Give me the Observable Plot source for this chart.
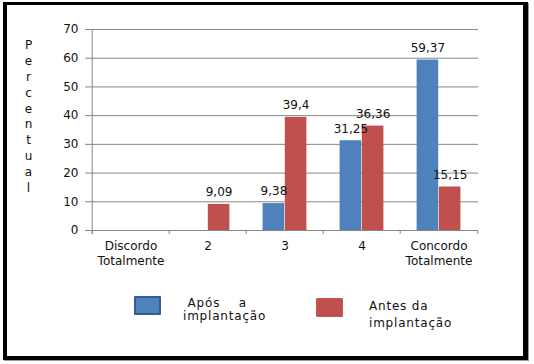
<!DOCTYPE html>
<html>
<head>
<meta charset="utf-8">
<script src="https://cdn.jsdelivr.net/npm/d3@7"></script>
<script src="https://cdn.jsdelivr.net/npm/@observablehq/plot@0.6"></script>
<style>
  html, body { margin: 0; padding: 0; background: #fff; }
  body { width: 534px; height: 364px; position: relative; overflow: hidden; font-family: "DejaVu Sans", sans-serif; }
  #frame { position: absolute; left: 3px; top: 2px; width: 525px; height: 358px; box-sizing: border-box;
           border-style: solid; border-color: #000; border-width: 3px 5px 4px 4px; box-shadow: 1px 1px 0 #999; pointer-events: none; }
  #chart { position: absolute; left: 0; top: 0; }
  .sw { position: absolute; box-sizing: border-box; }
  .lt { position: absolute; font-size: 12px; letter-spacing: 0.8px; color: #111; white-space: pre; }
</style>
</head>
<body>
<div id="chart"></div>
<div id="frame"></div>
<div id="legend"></div>
<script>
const categories = ["Discordo\nTotalmente", "2", "3", "4", "Concordo\nTotalmente"];
const seriesNames = ["Após a implantação", "Antes da implantação"];
const legendLines = [[" Após    a", "implantação"], ["Antes da", "implantação"]];
const apos = [0, 0, 9.38, 31.25, 59.37];
const antes = [0, 9.09, 39.4, 36.36, 15.15];
const yTicks = [0, 10, 20, 30, 40, 50, 60, 70];
const yTitle = "Percentual";

const colors = ["#4F81BD", "#C0504D"];
const W = 534, H = 270, mL = 90, mR = 56, mT = 29, mB = 40;
const bw = (W - mL - mR) / categories.length;
const barW = bw * 0.286;
const pad = (bw - 2 * barW) / 2;
const grid = "#868686";

const rowsA = categories.map((c, i) => ({cat: c, value: apos[i]}));
const rowsB = categories.map((c, i) => ({cat: c, value: antes[i]}));
const fmt = v => String(v).replace(".", ",");

const plot = Plot.plot({
  width: W, height: H,
  marginLeft: mL, marginRight: mR, marginTop: mT, marginBottom: mB,
  style: {fontFamily: "DejaVu Sans, sans-serif", fontSize: "12px", background: "transparent"},
  x: {type: "band", domain: categories, padding: 0, label: null},
  y: {domain: [0, 70], label: null},
  marks: [
    Plot.gridY(yTicks, {stroke: grid, strokeOpacity: 1}),
    Plot.axisY(yTicks, {tickSize: 5, tickPadding: 7, stroke: grid, fill: "#111", fontSize: 12, label: null}),
    Plot.axisX({tickSize: 0, tickPadding: 10, fill: "#111", fontSize: 12, lineHeight: 1.17, label: null}),
    Plot.ruleX(categories.slice(0, 1), {x: d => d, dx: -bw / 2, stroke: grid, insetBottom: -4}),
    Plot.ruleX(categories, {x: d => d, y1: 0, y2: 0, dx: -bw / 2, stroke: grid, insetBottom: -4}),
    Plot.ruleX(categories.slice(-1), {x: d => d, y1: 0, y2: 0, dx: bw / 2, stroke: grid, insetBottom: -4}),
    Plot.barY(rowsA, {x: "cat", y: "value", fill: colors[0], insetLeft: pad, insetRight: pad + barW}),
    Plot.barY(rowsB, {x: "cat", y: "value", fill: colors[1], insetLeft: pad + barW, insetRight: pad}),
    Plot.ruleY([0], {stroke: grid}),
    Plot.text(rowsA.filter(d => d.value > 0), {x: "cat", y: "value", text: d => fmt(d.value), dx: -barW / 2, dy: -12, fill: "#111", fontSize: 12}),
    Plot.text(rowsB.filter(d => d.value > 0), {x: "cat", y: "value", text: d => fmt(d.value), dx: barW / 2, dy: -12, fill: "#111", fontSize: 12}),
    Plot.text([yTitle], {text: d => d.split("").join("\n"), frameAnchor: "left", dx: -62, dy: -14.5, lineHeight: 1.32, fontSize: 12, fill: "#111", textAnchor: "middle"})
  ]
});
document.getElementById("chart").append(plot);

const legend = document.getElementById("legend");
const legendItems = [
  {swatch: {left: 134, top: 296, w: 27, h: 19, border: "2px solid #385D8A"}, text: {left: 183, top: 297, lh: 13}},
  {swatch: {left: 316, top: 298, w: 27, h: 19, border: "1px solid #C65956"}, text: {left: 369, top: 298, lh: 17}}
];
legendItems.forEach((it, i) => {
  const s = document.createElement("div");
  s.className = "sw";
  Object.assign(s.style, {left: it.swatch.left + "px", top: it.swatch.top + "px", width: it.swatch.w + "px", height: it.swatch.h + "px", background: colors[i], border: it.swatch.border, borderRadius: "1px"});
  legend.append(s);
  const t = document.createElement("div");
  t.className = "lt";
  Object.assign(t.style, {left: it.text.left + "px", top: it.text.top + "px", lineHeight: it.text.lh + "px"});
  t.textContent = legendLines[i].join("\n");
  t.title = seriesNames[i];
  legend.append(t);
});
</script>
</body>
</html>
